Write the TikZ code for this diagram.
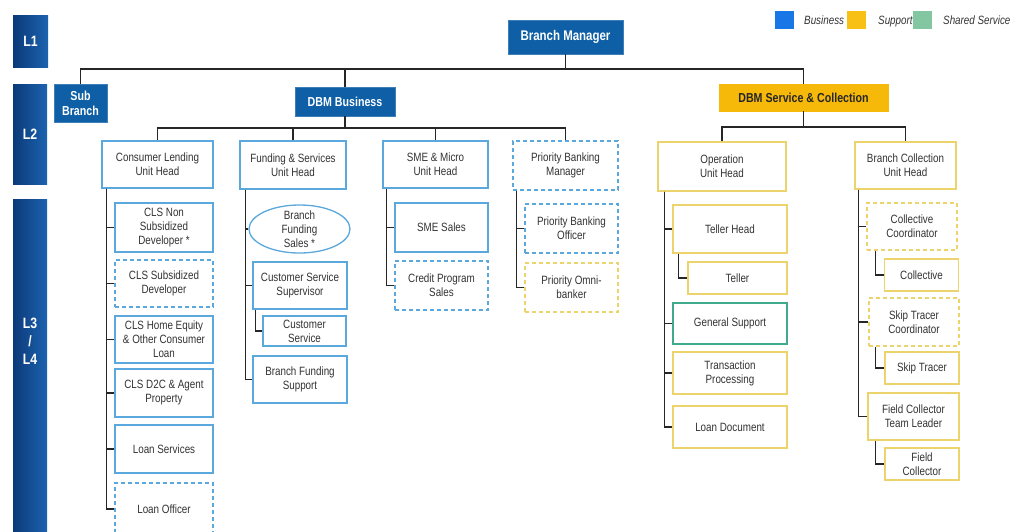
\documentclass[tikz,border=0pt]{standalone}
\usepackage{fontspec}
\setmainfont{Liberation Sans}[FakeStretch=0.82]
\usepackage{tikz}
\usetikzlibrary{backgrounds}
\usepgflibrary{shapes}

\definecolor{lvlDark}{HTML}{0B3A78}
\definecolor{lvlLight}{HTML}{1C62B0}
\definecolor{bizFill}{HTML}{0E5FA6}
\definecolor{bizLine}{HTML}{5AA8DC}
\definecolor{supFill}{HTML}{F6B90A}
\definecolor{supLine}{HTML}{EDD36C}
\definecolor{shrLine}{HTML}{3FAA8C}
\definecolor{keyBiz}{HTML}{1976E6}
\definecolor{keySup}{HTML}{F8BF14}
\definecolor{keyShr}{HTML}{82C6A2}
\definecolor{wireCol}{HTML}{262626}
\definecolor{ink}{HTML}{333333}

\tikzset{
  tier/.style={rectangle, inner sep=0pt, left color=lvlDark, right color=lvlLight, text=white, align=center, font=\fontsize{15}{18}\selectfont\bfseries},
  head/.style={rectangle, fill=bizFill, draw=bizFill!80!white, text=white, inner sep=0pt, align=center, font=\fontsize{13}{15}\selectfont\bfseries},
  role/.style={rectangle, draw=bizLine, line width=1.3pt, fill=white, inner sep=0pt, align=center, text=ink, font=\fontsize{12}{14}\selectfont},
  sup/.style={draw=supLine},
  shr/.style={draw=shrLine},
  vacant/.style={dash pattern=on 4pt off 3pt},
  sz/.style 2 args={minimum width=#1pt, minimum height=#2pt},
  conn/.style={draw=wireCol, line width=1.7pt},
  keybox/.style={rectangle, inner sep=0pt, minimum width=19pt, minimum height=18pt},
  keytext/.style={anchor=base west, inner sep=0pt, text=ink, font=\fontsize{12}{14}\selectfont\itshape},
}

\begin{document}
\begin{tikzpicture}[x=1pt, y=-1pt]
      \useasboundingbox (0,0) rectangle (1013,531);
      % level bars
      \node[name=l1, tier, sz={35}{52}] at (30.5,41){L1};
      \node[name=l2, tier, sz={34}{100}] at (30,134){L2};
      \node[name=l34, tier, sz={34}{340}] at (30,369){};
      \node[name=l34txt, text=white, align=center, font=\fontsize{15}{18}\selectfont\bfseries] at (30,341){L3\\/\\L4};
      % legend
      \node[name=kbiz, keybox, fill=keyBiz] at (784,20){};
      \node[name=kbiztxt, keytext] at (804,24.5){Business};
      \node[name=ksup, keybox, fill=keySup] at (856.5,20){};
      \node[name=ksuptxt, keytext] at (878,24.5){Support};
      \node[name=kshr, keybox, fill=keyShr] at (922.5,20){};
      \node[name=kshrtxt, keytext] at (943,24.5){Shared Service};
      % top
      \node[name=bm, head, sz={115}{34}, font=\fontsize{14}{16}\selectfont\bfseries] at (565.5,37){Branch Manager};
      \node[name=sub, head, sz={53}{38}] at (80.5,103){Sub\\Branch};
      \node[name=dbm, head, sz={100}{29}] at (345,101.5){DBM Business};
      \node[name=svc, head, fill=supFill, draw=supFill, text=black!85, sz={169}{27}] at (803.5,97.5){DBM Service \& Collection};
      % unit heads
      \node[name=cl, role, sz={111}{47}] at (157.5,164.5){Consumer Lending\\Unit Head};
      \node[name=fs, role, sz={106}{48}] at (293,165){Funding \& Services\\Unit Head};
      \node[name=sme, role, sz={105}{47}] at (435.5,164.5){SME \& Micro\\Unit Head};
      \node[name=pb, role, vacant, sz={105}{49}] at (565.5,165.5){Priority Banking\\Manager};
      \node[name=op, role, sup, sz={128}{49}] at (722,166.5){Operation\\Unit Head};
      \node[name=bc, role, sup, sz={101}{47}] at (905.5,165.5){Branch Collection\\Unit Head};
      % consumer lending
      \node[name=cls1, role, sz={98}{49}] at (164,227.5){CLS Non\\Subsidized\\Developer *};
      \node[name=cls2, role, vacant, sz={98}{47}] at (164,283.5){CLS Subsidized\\Developer};
      \node[name=cls3, role, sz={98}{47}] at (164,339.5){CLS Home Equity\\\& Other Consumer\\Loan};
      \node[name=cls4, role, sz={98}{48}] at (164,393){CLS D2C \& Agent\\Property};
      \node[name=ls, role, sz={98}{48}] at (164,449){Loan Services};
      \node[name=lo, role, vacant, sz={98}{52}] at (164,509){Loan Officer};
      % funding & services
      \node[name=bfs, ellipse, draw=bizLine, line width=1.3pt, fill=white, inner sep=0pt, sz={101}{48},
            label={[align=center, text=ink, font=\fontsize{12}{14}\selectfont]center:Branch\\Funding\\Sales *}] at (299.5,229){};
      \node[name=css, role, sz={94}{47}] at (300,285.5){Customer Service\\Supervisor};
      \node[name=cs, role, sz={83}{30}] at (304.5,331){Customer\\Service};
      \node[name=bfsup, role, sz={94}{47}] at (300,379.5){Branch Funding\\Support};
      % sme & micro
      \node[name=smes, role, sz={93}{49}] at (441.5,227.5){SME Sales};
      \node[name=cps, role, vacant, sz={93}{49}] at (441.5,285.5){Credit Program\\Sales};
      % priority banking
      \node[name=pbo, role, vacant, sz={93}{49}] at (571.5,228.5){Priority Banking\\Officer};
      \node[name=pob, role, sup, vacant, sz={93}{49}] at (571.5,287.5){Priority Omni-\\banker};
      % operation
      \node[name=th, role, sup, sz={114}{48}] at (730,229){Teller Head};
      \node[name=tl, role, sup, sz={99}{32}] at (737.5,278){Teller};
      \node[name=gs, role, shr, sz={114}{41}] at (730,323.5){General Support};
      \node[name=tp, role, sup, sz={114}{42}] at (730,373){Transaction\\Processing};
      \node[name=ld, role, sup, sz={114}{42}] at (730,427){Loan Document};
      % branch collection
      \node[name=cc, role, sup, vacant, sz={90}{47}] at (912,226.5){Collective\\Coordinator};
      \node[name=col, role, sup, sz={74}{32}] at (921.5,275){Collective};
      \node[name=stc, role, sup, vacant, sz={90}{48}] at (914,322){Skip Tracer\\Coordinator};
      \node[name=st, role, sup, sz={74}{32}] at (922,368){Skip Tracer};
      \node[name=fctl, role, sup, sz={91}{47}] at (913.5,416.5){Field Collector\\Team Leader};
      \node[name=fc, role, sup, sz={74}{32}] at (922,464){Field\\Collector};
      % buses
      \coordinate (bus) at (0,69);
      \coordinate (busb) at (0,128);
      \coordinate (busc) at (0,127);
      \draw[conn] (sub.north) -- (sub.north |- bus) -| (svc.north);
      \draw[conn] (bm.south) -- (bm.south |- bus);
      \draw[conn] (dbm.north) -- (dbm.north |- bus);
      \draw[conn] (cl.north) -- (cl.north |- busb) -| (pb.north);
      \foreach \n in {dbm.south, fs.north, sme.north}
        \draw[conn] (\n) -- (\n |- busb);
      \draw[conn] (svc.south) -- (svc.south |- busc);
      \draw[conn] (op.north) -- (op.north |- busc) -| (bc.north);
      % spines
      \foreach \n in {cls1,cls2,cls3,cls4,ls,lo}
        \draw[conn] ([xshift=5pt]cl.south west) |- (\n.west);
      \foreach \n in {bfs,css,bfsup}
        \draw[conn] ([xshift=6pt]fs.south west) |- (\n.west);
      \draw[conn] ([xshift=3pt]css.south west) |- (cs.west);
      \foreach \n in {smes,cps}
        \draw[conn] ([xshift=4pt]sme.south west) |- (\n.west);
      \foreach \n in {pbo,pob}
        \draw[conn] ([xshift=4pt]pb.south west) |- (\n.west);
      \foreach \n in {th,gs,tp,ld}
        \draw[conn] ([xshift=7pt]op.south west) |- (\n.west);
      \draw[conn] ([xshift=6pt]th.south west) |- (tl.west);
      \foreach \n in {cc,stc,fctl}
        \draw[conn] ([xshift=4pt]bc.south west) |- (\n.west);
      \draw[conn] ([xshift=9pt]cc.south west) |- (col.west);
      \draw[conn] ([xshift=7pt]stc.south west) |- (st.west);
      \draw[conn] ([xshift=8pt]fctl.south west) |- (fc.west);
\end{tikzpicture}
\end{document}
